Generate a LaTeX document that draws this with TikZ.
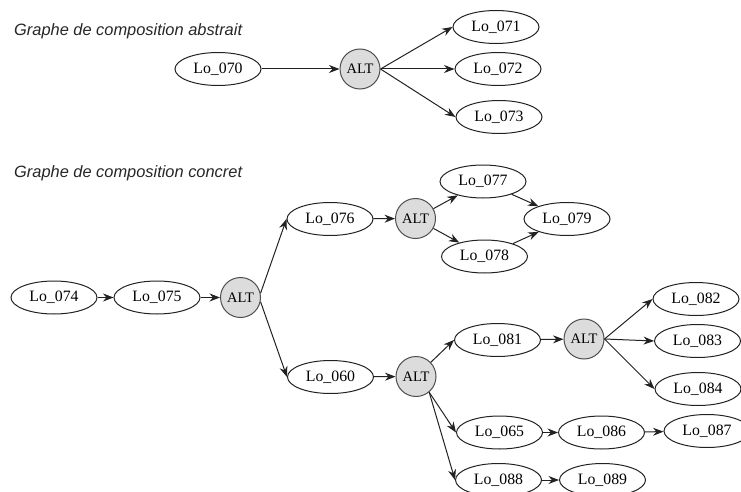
\documentclass[tikz,border=0pt]{standalone}
\usepackage{fontspec}
\setmainfont{Liberation Serif}
\newfontfamily\titlefont{Liberation Sans}
\usetikzlibrary{shapes.geometric,arrows.meta}
\definecolor{altfill}{HTML}{DCDCDC}
\definecolor{edgecol}{HTML}{222222}
\tikzset{
  lo/.style={ellipse,draw=edgecol,line width=1pt,minimum width=86pt,minimum height=33pt,inner sep=0pt,font=\fontsize{15.8}{15.8}\selectfont},
  alt/.style={circle,draw=edgecol!80,fill=altfill,line width=1pt,minimum size=40pt,inner sep=0pt,font=\fontsize{14.5}{14.5}\selectfont},
  arr/.style={-{Stealth[length=10.5pt,width=8pt]},line width=1pt,draw=edgecol},
  ttl/.style={anchor=west,inner sep=0pt,font=\titlefont\itshape\fontsize{16.4}{16.4}\selectfont,text=black!85}
}
\begin{document}
\begin{tikzpicture}[x=1pt,y=-1pt]
\useasboundingbox (0,0) rectangle (741,492);
\clip (0,0) rectangle (741,492);
% titles
\node[ttl] (t1) at (14,31) {Graphe de composition abstrait};
\node[ttl] (t2) at (14,173) {Graphe de composition concret};
% abstract graph
\node[lo] (l070) at (218,69) {Lo\_070};
\node[alt] (a0) at (360,69) {ALT};
\node[lo] (l071) at (496,27) {Lo\_071};
\node[lo] (l072) at (498,69) {Lo\_072};
\node[lo] (l073) at (499,117) {Lo\_073};
\draw[arr] (l070) -- (a0);
\draw[arr] (a0.east) -- (l071.west);
\draw[arr] (a0.east) -- (l072.west);
\draw[arr] (a0.east) -- (l073.west);
% concrete graph
\node[lo] (l074) at (54,297.5) {Lo\_074};
\node[lo] (l075) at (157,297.5) {Lo\_075};
\node[alt] (a1) at (240.5,297.5) {ALT};
\node[lo] (l076) at (330,219) {Lo\_076};
\node[alt] (a2) at (415.5,218.5) {ALT};
\node[lo] (l077) at (483,181.5) {Lo\_077};
\node[lo] (l078) at (484.5,256.5) {Lo\_078};
\node[lo] (l079) at (567,219) {Lo\_079};
\node[lo] (l060) at (330.5,377) {Lo\_060};
\node[alt] (a3) at (416,376.5) {ALT};
\node[lo] (l081) at (497.5,340) {Lo\_081};
\node[alt] (a4) at (584,339) {ALT};
\node[lo] (l082) at (696,299) {Lo\_082};
\node[lo] (l083) at (697.5,341) {Lo\_083};
\node[lo] (l084) at (698,389) {Lo\_084};
\node[lo] (l065) at (499.5,432.5) {Lo\_065};
\node[lo] (l086) at (601.5,432.5) {Lo\_086};
\node[lo] (l087) at (707,431) {Lo\_087};
\node[lo] (l088) at (498.5,480) {Lo\_088};
\node[lo] (l089) at (602.5,480) {Lo\_089};
\draw[arr] (l074) -- (l075);
\draw[arr] (l075) -- (a1);
\draw[arr] (a1.12) -- (l076.west);
\draw[arr] (a1.-12) -- (l060.west);
\draw[arr] (l076) -- (a2);
\draw[arr] (a2) -- (l077);
\draw[arr] (a2) -- (l078);
\draw[arr] (l077) -- (l079);
\draw[arr] (l078) -- (l079);
\draw[arr] (l060) -- (a3);
\draw[arr] (a3) -- (l081.west);
\draw[arr] (a3.-50) -- (l065.west);
\draw[arr] (a3.-50) -- (l088.west);
\draw[arr] (l081) -- (a4);
\draw[arr] (a4.east) -- (l082.west);
\draw[arr] (a4.east) -- (l083.west);
\draw[arr] (a4.east) -- (l084.west);
\draw[arr] (l065) -- (l086);
\draw[arr] (l086) -- (l087);
\draw[arr] (l088) -- (l089);
\end{tikzpicture}
\end{document}
